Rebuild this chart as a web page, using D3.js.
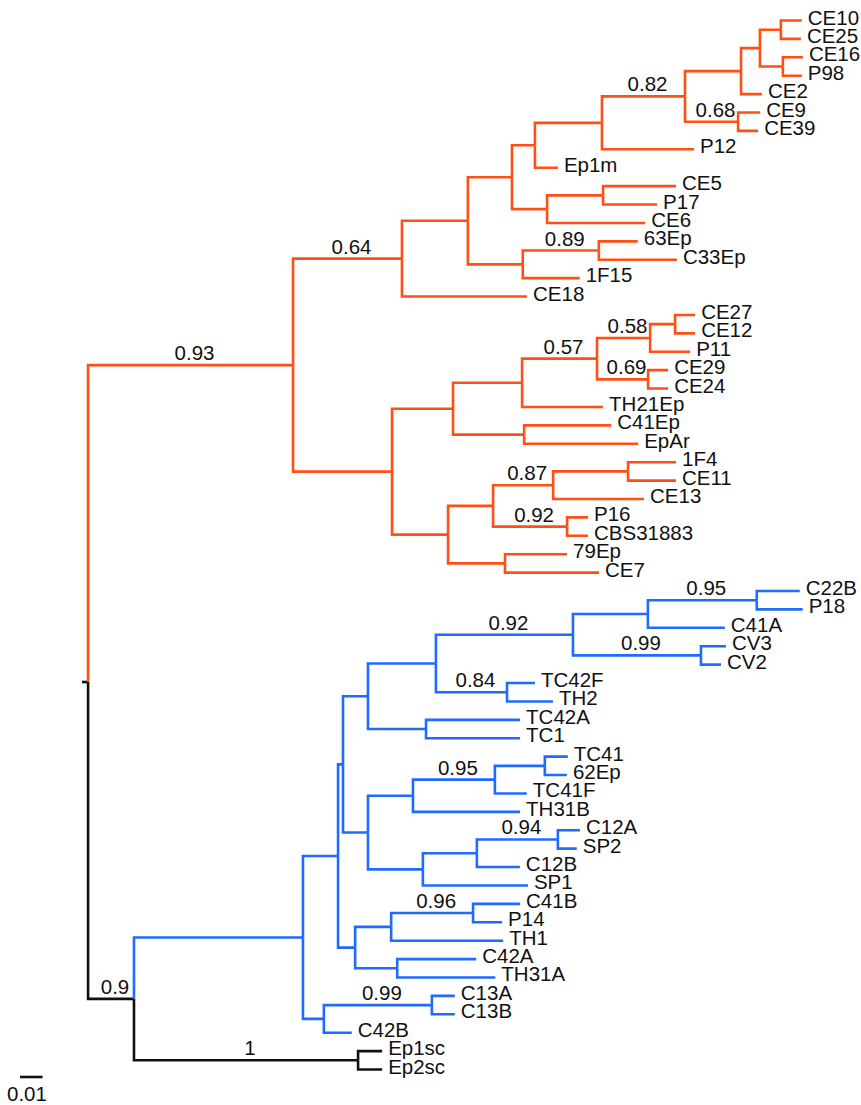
<!DOCTYPE html>
<html>
<head>
<meta charset="utf-8">
<script src="https://cdn.jsdelivr.net/npm/d3@7"></script>
<style>
  html, body { margin: 0; padding: 0; background: #fff; }
  svg { display: block; }
  text { font-family: "Liberation Sans", Arial, Helvetica, sans-serif; fill: #111; }
</style>
</head>
<body>
<svg id="tree" width="861" height="1105"></svg>
<script>
// Clades in Newick form: branch lengths in substitutions/site, internal labels are posterior support.
const orangeClade =
  "((((((((((CE10:0.0093,CE25:0.0089):0.0093,(CE16:0.0089,P98:0.0084):0.0102):0.0084,CE2:0.0093):0.0249," +
  "(CE9:0.0098,CE39:0.0089)0.68:0.0236)0.82:0.0369,P12:0.0409):0.0298,Ep1m:0.0102):0.0102," +
  "((CE5:0.0324,P17:0.0240):0.0249,CE6:0.0436):0.0156):0.0196," +
  "((63Ep:0.0173,C33Ep:0.0347)0.89:0.0338,1F15:0.0253):0.0244):0.0293,CE18:0.0556)0.64:0.0484," +
  "((((((CE27:0.0089,CE12:0.0089):0.0111,P11:0.0178)0.58:0.0236,(CE29:0.0089,CE24:0.0089)0.69:0.0227)0.57:0.0333," +
  "TH21Ep:0.0360):0.0307,(C41Ep:0.0387,EpAr:0.0507):0.0316):0.0271," +
  "((((1F4:0.0213,CE11:0.0213):0.0333,CE13:0.0404)0.87:0.0267,(P16:0.0093,CBS31883:0.0093)0.92:0.0329):0.0200," +
  "(79Ep:0.0276,CE7:0.0418):0.0253):0.0249):0.0440)0.93:0.0911";

const blueClade =
  "((((((((C22B:0.0191,P18:0.0204)0.95:0.0484,C41A:0.0342):0.0333,(CV3:0.0111,CV2:0.0089)0.99:0.0569)0.92:0.0609," +
  "(TC42F:0.0124,TH2:0.0204)0.84:0.0316):0.0302,(TC42A:0.0418,TC1:0.0418):0.0258):0.0111," +
  "((((TC41:0.0102,62Ep:0.0098):0.0222,TC41F:0.0142)0.95:0.0364,TH31B:0.0476):0.0200," +
  "(((C12A:0.0098,SP2:0.0084)0.94:0.0360,C12B:0.0191):0.0240,SP1:0.0467):0.0244):0.0111):0.0022," +
  "(((C41B:0.0209,P14:0.0129)0.96:0.0364,TH1:0.0498):0.0160,(C42A:0.0351,TH31A:0.0436):0.0187):0.0076):0.0156," +
  "((C13A:0.0102,C13B:0.0102)0.99:0.0480,C42B:0.0124):0.0093):0.0751";

const outgroupClade = "(Ep1sc:0.0107,Ep2sc:0.0107)1:0.0996";

const backbone = "(" + orangeClade + ",(" + blueClade + "," + outgroupClade + ")0.9:0.0204):0.0027";

const cladeColors = ["#ff4f14", "#1f6bff"];
const stemColor = "#111111";
const scaleBarLength = 0.01;

function parseNewick(s) {
  let i = 0;
  function node() {
    const n = {};
    if (s[i] === "(") {
      i++;
      n.children = [node()];
      while (s[i] === ",") { i++; n.children.push(node()); }
      i++; // closing paren
    }
    let label = "";
    while (i < s.length && !",():;".includes(s[i])) label += s[i++];
    if (s[i] === ":") {
      i++;
      let len = "";
      while (i < s.length && !",();".includes(s[i])) len += s[i++];
      n.length = +len;
    }
    if (n.children) { if (label) n.support = label; } else n.name = label;
    return n;
  }
  return node();
}

const root = d3.hierarchy(parseNewick(backbone));

// cumulative distance from the root
root.each(d => {
  d.dist = (d.parent ? d.parent.dist : 0) + (d.data.length || 0);
});

const xScale = d3.scaleLinear().domain([0, 0.1]).range([82, 307]);
const leafNames = root.leaves().map(d => d.data.name);
const yScale = d3.scalePoint().domain(leafNames).range([20.5, 1069.5]);

root.eachAfter(d => {
  d.x = xScale(d.dist);
  d.y = d.children ? (d.children[0].y + d.children[d.children.length - 1].y) / 2 : yScale(d.data.name);
});

root.each(d => { d.color = stemColor; });
root.children[0].each(d => { d.color = cladeColors[0]; });
root.children[1].children[0].each(d => { d.color = cladeColors[1]; });

const svg = d3.select("#tree");
svg.append("rect").attr("width", 861).attr("height", 1105).attr("fill", "#fff");

const g = svg.append("g");
const fontSize = 20.5;

// root stem
g.append("path")
  .attr("d", `M${xScale(0)},${root.y}H${root.x}`)
  .attr("fill", "none")
  .attr("stroke", stemColor)
  .attr("stroke-width", 2.6);

// elbow branches: vertical at parent, horizontal to node
const links = root.descendants().filter(d => d.parent);
links.sort((a, b) => (a.color === stemColor ? 0 : 1) - (b.color === stemColor ? 0 : 1));
g.selectAll("path.branch")
  .data(links)
  .join("path")
  .attr("class", "branch")
  .attr("d", d => `M${d.parent.x},${d.parent.y}V${d.y}H${d.x}`)
  .attr("fill", "none")
  .attr("stroke", d => d.color)
  .attr("stroke-width", 2.6)
  .attr("stroke-linejoin", "miter")
  .attr("stroke-linecap", "butt");

// tip labels
g.selectAll("text.tip")
  .data(root.leaves())
  .join("text")
  .attr("class", "tip")
  .attr("x", d => d.x + 6)
  .attr("y", d => d.y + 4)
  .attr("font-size", fontSize)
  .text(d => d.data.name);

// support values above the branch leading to each node
g.selectAll("text.support")
  .data(root.descendants().filter(d => d.data.support && d.parent))
  .join("text")
  .attr("class", "support")
  .attr("x", d => (d.parent.x + d.x) / 2 + 4)
  .attr("y", d => d.y - 5)
  .attr("text-anchor", "middle")
  .attr("font-size", fontSize)
  .text(d => d.data.support);

// scale bar
const bar = svg.append("g");
bar.append("line")
  .attr("x1", 20).attr("x2", 20 + xScale(scaleBarLength) - xScale(0))
  .attr("y1", 1077).attr("y2", 1077)
  .attr("stroke", stemColor)
  .attr("stroke-width", 2.6);
bar.append("text")
  .attr("x", 7)
  .attr("y", 1101)
  .attr("font-size", fontSize)
  .text(d3.format(".2f")(scaleBarLength));
</script>
</body>
</html>
